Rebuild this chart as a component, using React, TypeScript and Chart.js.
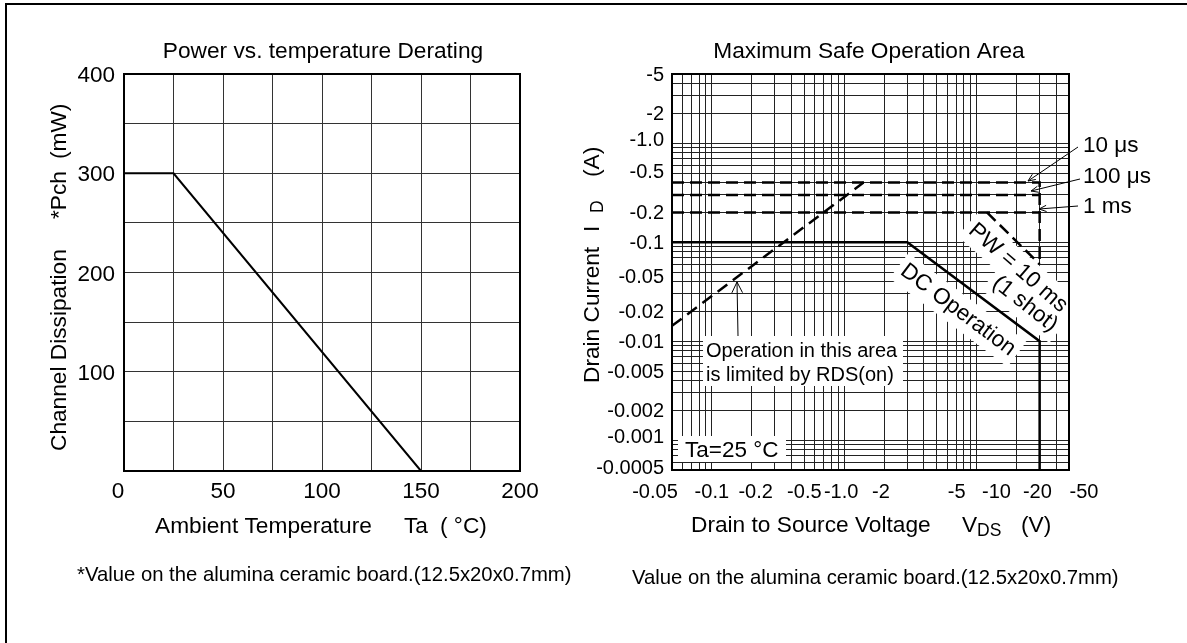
import React, { useEffect, useRef } from 'react';
import { Chart, registerables } from 'chart.js';

Chart.register(...registerables);

const FONT = '"Liberation Sans", Arial, Helvetica, sans-serif';

// ---------- Left chart: Power vs. temperature derating ----------
const ambientTempC = [0, 25, 150];
const channelPowerMW = [300, 300, 0];
const tempTickLabels = [0, 50, 100, 150, 200];
const powerTickLabels = [100, 200, 300, 400];

// ---------- Right chart: Maximum safe operation area (magnitudes, shown with minus sign) ----------
const dcVds = [0.05, 3, 30, 30];
const dcId = [0.1, 0.1, 0.01, 0.0005];
const rdsVds = [0.05, 1.4];
const rdsId = [0.0143, 0.4];
const pw10usVds = [0.05, 30, 30];
const pw10usId = [0.4, 0.4, 0.06];
const pw100usVds = [0.05, 30];
const pw100usId = [0.3, 0.3];
const pw1msVds = [0.05, 30];
const pw1msId = [0.2, 0.2];
const pw10msVds = [12, 30];
const pw10msId = [0.2, 0.06];

const vdsTickValues = [0.05, 0.1, 0.2, 0.5, 1, 2, 5, 10, 20, 50];
const vdsTickLabels = ['-0.05', '-0.1', '-0.2', '-0.5', '-1.0', '-2', '-5', '-10', '-20', '-50'];
const idTickValues = [5, 2, 1, 0.5, 0.2, 0.1, 0.05, 0.02, 0.01, 0.005, 0.002, 0.001, 0.0005];
const idTickLabels = ['-5', '-2', '-1.0', '-0.5', '-0.2', '-0.1', '-0.05', '-0.02', '-0.01', '-0.005', '-0.002', '-0.001', '-0.0005'];

// label nudges (pixels) to follow the reference's hand placement of labels
const tempLabelNudge = [-6, 0, 0, 0, 0];
const vdsLabelNudge = [-17, 0, 4, 0, -3, -3, 20, 20, 21, 15];
const idLabelNudge = [0, 0, -4, -2, 0, 0, 4, 0, 0, 0, 0, -4, -3];

function logGrid(min: number, max: number): number[] {
  const out: number[] = [];
  for (let e = -5; e <= 3; e++) {
    for (let m = 1; m <= 9; m++) {
      const v = +(m * Math.pow(10, e)).toPrecision(6);
      if (v >= min * 0.9999 && v <= max * 1.0001) out.push(v);
    }
  }
  return out;
}

function txt(ctx: CanvasRenderingContext2D, s: string, x: number, y: number, size: number, align: CanvasTextAlign = 'left') {
  ctx.save();
  ctx.font = `${size}px ${FONT}`;
  ctx.fillStyle = '#000';
  ctx.textAlign = align;
  ctx.textBaseline = 'alphabetic';
  ctx.fillText(s, x, y);
  ctx.restore();
}

function vtxt(ctx: CanvasRenderingContext2D, s: string, bx: number, startY: number, size: number) {
  ctx.save();
  ctx.translate(bx, startY);
  ctx.rotate(-Math.PI / 2);
  ctx.font = `${size}px ${FONT}`;
  ctx.fillStyle = '#000';
  ctx.textAlign = 'left';
  ctx.textBaseline = 'alphabetic';
  ctx.fillText(s, 0, 0);
  ctx.restore();
}

function rtxt(ctx: CanvasRenderingContext2D, s: string, cx: number, cy: number, deg: number, size: number, mask: boolean) {
  ctx.save();
  ctx.translate(cx, cy);
  ctx.rotate((deg * Math.PI) / 180);
  ctx.font = `${size}px ${FONT}`;
  ctx.textAlign = 'center';
  ctx.textBaseline = 'middle';
  if (mask) {
    const w = ctx.measureText(s).width;
    ctx.fillStyle = '#fff';
    ctx.fillRect(-w / 2 - 5, -size * 0.7, w + 10, size * 1.4);
  } else {
    ctx.fillStyle = '#000';
    ctx.fillText(s, 0, 0);
  }
  ctx.restore();
}

function arrow(ctx: CanvasRenderingContext2D, x1: number, y1: number, x2: number, y2: number, len: number, spread: number) {
  ctx.save();
  ctx.strokeStyle = '#000';
  ctx.lineWidth = 1;
  ctx.beginPath();
  ctx.moveTo(x1, y1);
  ctx.lineTo(x2, y2);
  ctx.stroke();
  const ang = Math.atan2(y2 - y1, x2 - x1);
  ctx.beginPath();
  ctx.moveTo(x2 - len * Math.cos(ang - spread), y2 - len * Math.sin(ang - spread));
  ctx.lineTo(x2, y2);
  ctx.lineTo(x2 - len * Math.cos(ang + spread), y2 - len * Math.sin(ang + spread));
  ctx.stroke();
  ctx.restore();
}

function frame(chart: any) {
  const ctx = chart.ctx as CanvasRenderingContext2D;
  const a = chart.chartArea;
  ctx.save();
  ctx.strokeStyle = '#000';
  ctx.lineWidth = 2;
  ctx.strokeRect(a.left, a.top, a.right - a.left, a.bottom - a.top);
  ctx.restore();
}

const TITLE = 22.7;

const leftPlugin = {
  id: 'leftText',
  afterDatasetsDraw(chart: any) {
    frame(chart);
  },
  afterDraw(chart: any) {
    const ctx = chart.ctx as CanvasRenderingContext2D;
    const xs = chart.scales.x;
    const ys = chart.scales.y;
    tempTickLabels.forEach((v, i) => txt(ctx, String(v), xs.getPixelForValue(v) + tempLabelNudge[i], 498, 22.5, 'center'));
    powerTickLabels.forEach((v) => txt(ctx, String(v), 115, ys.getPixelForValue(v) + 8, 22.5, 'right'));
    txt(ctx, 'Power vs. temperature Derating', 323, 58, TITLE, 'center');
    txt(ctx, 'Ambient Temperature', 155, 533, TITLE);
    txt(ctx, 'Ta', 404, 533, TITLE);
    txt(ctx, '( °C)', 440, 533, TITLE);
    vtxt(ctx, 'Channel Dissipation', 66, 451, TITLE);
    vtxt(ctx, '*Pch', 66, 219, TITLE);
    vtxt(ctx, '(mW)', 66, 159, TITLE);
    txt(ctx, '*Value on the alumina ceramic board.(12.5x20x0.7mm)', 77, 581, 20.3);
  },
};

const rightPlugin = {
  id: 'rightText',
  beforeDatasetsDraw(chart: any) {
    const ctx = chart.ctx as CanvasRenderingContext2D;
    ctx.save();
    ctx.fillStyle = '#fff';
    ctx.fillRect(703, 336, 200, 50);
    ctx.fillRect(678, 436, 108, 26);
    ctx.restore();
    rtxt(ctx, 'PW = 10 ms', 1018, 268, 41, 22.5, true);
    rtxt(ctx, '(1 shot)', 1025, 304, 38, 22.5, true);
    rtxt(ctx, 'DC Operation', 958, 310, 37, 22.5, true);
  },
  afterDatasetsDraw(chart: any) {
    frame(chart);
  },
  afterDraw(chart: any) {
    const ctx = chart.ctx as CanvasRenderingContext2D;
    const xs = chart.scales.x;
    const ys = chart.scales.y;
    vdsTickValues.forEach((v, i) => txt(ctx, vdsTickLabels[i], xs.getPixelForValue(v) + vdsLabelNudge[i], 498, 20, 'center'));
    idTickValues.forEach((v, i) => txt(ctx, idTickLabels[i], 664, ys.getPixelForValue(v) + 7 + idLabelNudge[i], 20, 'right'));
    txt(ctx, 'Maximum Safe Operation Area', 869, 58, TITLE, 'center');
    txt(ctx, 'Drain to Source Voltage', 691, 532, TITLE);
    txt(ctx, 'V', 962, 532, TITLE);
    txt(ctx, 'DS', 977, 536, 17.5);
    txt(ctx, '(V)', 1021, 532, TITLE);
    vtxt(ctx, 'Drain Current', 599, 383, TITLE);
    vtxt(ctx, 'I', 599, 232, TITLE);
    vtxt(ctx, 'D', 603, 213, 17.5);
    vtxt(ctx, '(A)', 599, 177, TITLE);
    txt(ctx, 'Value on the alumina ceramic board.(12.5x20x0.7mm)', 632, 584, 20.3);

    txt(ctx, 'Operation in this area', 706, 357, 20);
    txt(ctx, 'is limited by RDS(on)', 706, 381, 20);
    arrow(ctx, 738, 336, 737, 282, 12, 0.46);
    txt(ctx, 'Ta=25 °C', 685, 457, 22.5);

    txt(ctx, '10 μs', 1083, 152, 22.5);
    txt(ctx, '100 μs', 1083, 183, 22.5);
    txt(ctx, '1 ms', 1083, 213, 22.5);
    arrow(ctx, 1078, 147, 1028, 181, 8, 0.4);
    arrow(ctx, 1080, 179, 1031, 191, 8, 0.4);
    arrow(ctx, 1078, 206, 1039, 209, 8, 0.4);

    rtxt(ctx, 'PW = 10 ms', 1018, 268, 41, 22.5, false);
    rtxt(ctx, '(1 shot)', 1025, 304, 38, 22.5, false);
    rtxt(ctx, 'DC Operation', 958, 310, 37, 22.5, false);
  },
};

function series(xs: number[], ys: number[], dash: number[], width: number) {
  return {
    data: xs.map((x, i) => ({ x, y: ys[i] })),
    borderColor: '#000',
    borderWidth: width,
    borderDash: dash,
    borderCapStyle: 'butt',
    pointRadius: 0,
    tension: 0,
    fill: false,
  };
}

export default function App() {
  const leftRef = useRef<HTMLCanvasElement>(null);
  const rightRef = useRef<HTMLCanvasElement>(null);

  useEffect(() => {
    const gridL = { color: '#333', lineWidth: 1, drawTicks: false };
    const gridR = { color: '#222', lineWidth: 1, drawTicks: false };
    const left = new Chart(leftRef.current as HTMLCanvasElement, {
      type: 'line',
      data: { datasets: [series(ambientTempC, channelPowerMW, [], 2) as any] },
      options: {
        responsive: false,
        animation: false,
        devicePixelRatio: 1,
        layout: { padding: { left: 0, top: 74, right: 1187 - 520, bottom: 643 - 471 - 10 } },
        plugins: { legend: { display: false }, tooltip: { enabled: false }, title: { display: false } },
        scales: {
          x: {
            type: 'linear', min: 0, max: 200, bounds: 'data',
            ticks: { display: false, stepSize: 25 },
            grid: gridL, border: { display: false },
            afterFit: (s: any) => { s.height = 10; },
          },
          y: {
            type: 'linear', min: 0, max: 400, bounds: 'data',
            ticks: { display: false, stepSize: 50 },
            grid: gridL, border: { display: false },
            afterFit: (s: any) => { s.width = 124; },
          },
        },
      } as any,
      plugins: [leftPlugin],
    });

    const right = new Chart(rightRef.current as HTMLCanvasElement, {
      type: 'line',
      data: {
        datasets: [
          series(dcVds, dcId, [], 2.5),
          series(rdsVds, rdsId, [12, 7], 2.5),
          series(pw10usVds, pw10usId, [12, 6], 2.5),
          series(pw100usVds, pw100usId, [12, 6], 2.5),
          series(pw1msVds, pw1msId, [12, 6], 2.5),
          series(pw10msVds, pw10msId, [12, 6], 2.5),
        ] as any,
      },
      options: {
        responsive: false,
        animation: false,
        devicePixelRatio: 1,
        layout: { padding: { left: 652, top: 74, right: 1187 - 1069, bottom: 643 - 470 - 10 } },
        plugins: { legend: { display: false }, tooltip: { enabled: false }, title: { display: false } },
        scales: {
          x: {
            type: 'logarithmic', min: 0.05, max: 50, bounds: 'data',
            ticks: { display: false },
            grid: gridR, border: { display: false },
            afterBuildTicks: (s: any) => { s.ticks = logGrid(0.05, 50).map((v) => ({ value: v })); },
            afterFit: (s: any) => { s.height = 10; },
          },
          y: {
            type: 'logarithmic', min: 0.0005, max: 5, bounds: 'data',
            ticks: { display: false },
            grid: gridR, border: { display: false },
            afterBuildTicks: (s: any) => { s.ticks = logGrid(0.0005, 5).map((v) => ({ value: v })); },
            afterFit: (s: any) => { s.width = 20; },
          },
        },
      } as any,
      plugins: [rightPlugin],
    });

    return () => {
      left.destroy();
      right.destroy();
    };
  }, []);

  return (
    <div style={{ position: 'fixed', left: 0, top: 0, width: 1187, height: 643, background: '#fff', overflow: 'hidden' }}>
      <div style={{ position: 'absolute', left: 5, top: 3, width: 1300, height: 800, borderTop: '2px solid #000', borderLeft: '2px solid #000' }} />
      <canvas ref={leftRef} width={1187} height={643} style={{ position: 'absolute', left: 0, top: 0, width: 1187, height: 643 }} />
      <canvas ref={rightRef} width={1187} height={643} style={{ position: 'absolute', left: 0, top: 0, width: 1187, height: 643 }} />
    </div>
  );
}
